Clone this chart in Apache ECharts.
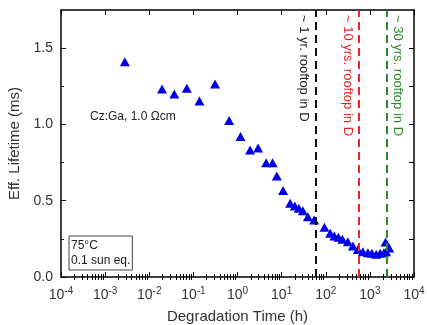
<!DOCTYPE html>
<html>
<head>
<meta charset="utf-8">
<script src="https://cdn.jsdelivr.net/npm/echarts@6/dist/echarts.min.js"></script>
<style>
  html, body { margin: 0; padding: 0; background: #fff; }
  #main { width: 427px; height: 325px; }
</style>
</head>
<body>
<div id="main"></div>
<script>
// degradation time (h) and effective lifetime (ms)
const timeH = [0.0028, 0.0195, 0.037, 0.071, 0.137, 0.31, 0.646, 1.17, 1.93, 2.93,
  4.46, 6.25, 7.78, 10.8, 15.6, 19.9, 24.5, 30.3, 39.3, 54.6,
  93.5, 126, 157, 194, 239, 317, 412, 535, 694, 901,
  1110, 1390, 1710, 2080, 2340, 2260, 2740]
const lifetime = [1.411, 1.232, 1.199, 1.237, 1.153, 1.265, 1.026, 0.921, 0.832, 0.845,
  0.749, 0.749, 0.662, 0.567, 0.483, 0.465, 0.450, 0.434, 0.395, 0.374,
  0.326, 0.286, 0.269, 0.260, 0.247, 0.231, 0.203, 0.181, 0.166, 0.159,
  0.155, 0.149, 0.155, 0.159, 0.166, 0.229, 0.190]

// rooftop-equivalent markers
const markTimes = [58, 550, 2400]
const markTexts = ['~ 1 yr. rooftop in D', '~ 10 yrs. rooftop in D', '~ 30 yrs. rooftop in D']
const markColors = ['#111111', '#e8262a', '#2a8a2a']

const yMajor = [0, 0.5, 1.0, 1.5]
const yMinor = [0.25, 0.75, 1.25]
const xMajor = [1e-4, 1e-3, 1e-2, 1e-1, 1, 10, 100, 1000, 10000]
const xMinor = []
for (let d = -4; d < 4; d++) {
  for (let k = 2; k <= 9; k++) xMinor.push(k * Math.pow(10, d))
}

const font = '"Liberation Sans", Arial, sans-serif'
const frame = { show: true, onZero: false, lineStyle: { color: '#000', width: 1.5 } }

const xAxisBase = (position, ticks, len, withLabels) => ({
  type: 'log',
  logBase: 10,
  min: 1e-4,
  max: 1e4,
  position,
  axisLine: withLabels !== null ? frame : { show: false },
  splitLine: { show: false },
  axisTick: { show: true, inside: true, length: len, customValues: ticks, lineStyle: { color: '#000', width: 1 } },
  axisLabel: withLabels ? {
    show: true,
    customValues: xMajor,
    margin: 9,
    color: '#333',
    fontFamily: font,
    formatter: v => '{b|10}{s|' + Math.round(Math.log10(v)) + '}',
    rich: {
      b: { fontSize: 14, fontFamily: font, color: '#333' },
      s: { fontSize: 10, fontFamily: font, color: '#333', padding: [0, 0, 8, 0] }
    }
  } : { show: false }
})

const yAxisBase = (position, ticks, len, withLabels) => ({
  type: 'value',
  min: 0,
  max: 1.75,
  position,
  axisLine: withLabels !== null ? frame : { show: false },
  splitLine: { show: false },
  axisTick: { show: true, inside: true, length: len, customValues: ticks, lineStyle: { color: '#000', width: 1 } },
  axisLabel: withLabels ? {
    show: true,
    customValues: yMajor,
    margin: 8,
    color: '#333',
    fontSize: 14,
    fontFamily: font,
    formatter: v => v.toFixed(1)
  } : { show: false }
})

const xAxes = [
  Object.assign(xAxisBase('bottom', xMajor, 5, true), {
    name: 'Degradation Time (h)',
    nameLocation: 'middle',
    nameGap: 32,
    nameTextStyle: { fontSize: 15, fontFamily: font, color: '#333' }
  }),
  xAxisBase('bottom', xMinor, 3, null),
  xAxisBase('top', xMajor, 5, false),
  xAxisBase('top', xMinor, 3, null)
]
const yAxes = [
  Object.assign(yAxisBase('left', yMajor, 5, true), {
    name: 'Eff. Lifetime (ms)',
    nameLocation: 'middle',
    nameGap: 38,
    nameTextStyle: { fontSize: 15, fontFamily: font, color: '#333' }
  }),
  yAxisBase('left', yMinor, 3, null),
  yAxisBase('right', yMajor, 5, false),
  yAxisBase('right', yMinor, 5, null)
]

const chart = echarts.init(document.getElementById('main'), null, { renderer: 'canvas' })

chart.setOption({
  animation: false,
  backgroundColor: '#fff',
  grid: { left: 61, right: 13, top: 10, bottom: 48, containLabel: false, outerBoundsMode: 'none' },
  xAxis: xAxes,
  yAxis: yAxes,
  series: [
    {
      type: 'scatter',
      xAxisIndex: 0,
      yAxisIndex: 0,
      symbol: 'triangle',
      symbolSize: [10, 9],
      itemStyle: { color: '#0000e6', opacity: 1 },
      data: timeH.map((t, i) => [t, lifetime[i]]),
      markLine: {
        silent: true,
        symbol: 'none',
        label: { show: false },
        data: markTimes.map((t, i) => ({
          xAxis: t,
          lineStyle: { color: markColors[i], width: 2, type: [8, 5] }
        }))
      },
      z: 3
    }
  ]
})

// rotated annotations beside the dashed lines, plus text boxes
const labelOffsets = [-12, -11, 11]
const graphics = markTimes.map((t, i) => {
  const p = chart.convertToPixel({ xAxisIndex: 0, yAxisIndex: 0 }, [t, 1.75])
  return {
    type: 'text',
    x: p[0] + labelOffsets[i],
    y: p[1] + 5,
    rotation: -Math.PI / 2,
    style: {
      text: markTexts[i],
      fill: markColors[i] === '#111111' ? '#222' : markColors[i],
      font: '13px ' + font,
      textAlign: 'left',
      textVerticalAlign: 'middle'
    }
  }
})
graphics.push({
  type: 'text',
  x: 90,
  y: 117,
  style: { text: 'Cz:Ga, 1.0 Ωcm', fill: '#222', font: '12px ' + font, textAlign: 'left', textVerticalAlign: 'middle' }
})
graphics.push({
  type: 'text',
  x: 69,
  y: 236,
  style: {
    text: '75°C\n0.1 sun eq.',
    fill: '#222',
    font: '12px ' + font,
    lineHeight: 15,
    padding: [2, 2, 2, 2],
    borderColor: '#444',
    borderWidth: 1,
    textAlign: 'left',
    textVerticalAlign: 'top'
  }
})
chart.setOption({ graphic: graphics })
</script>
</body>
</html>
